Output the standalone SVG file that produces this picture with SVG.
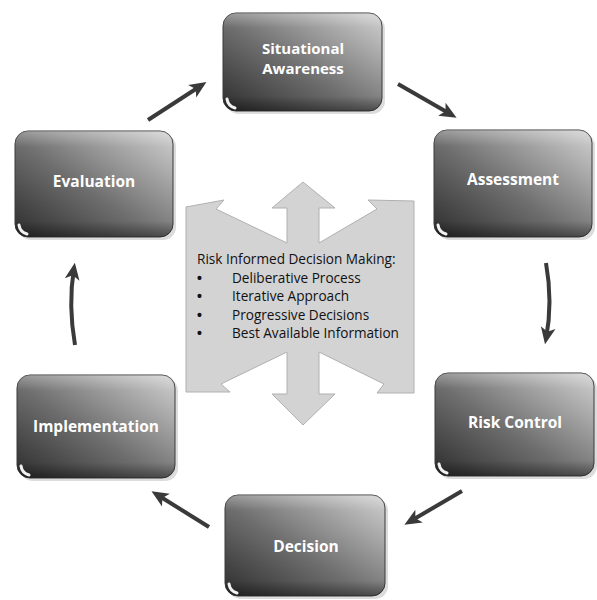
<svg xmlns="http://www.w3.org/2000/svg" width="597" height="600" viewBox="0 0 597 600">
<defs>
<linearGradient id="boxg" x1="0" y1="1" x2="1" y2="0">
<stop offset="0" stop-color="#2c2c2c"/>
<stop offset="0.45" stop-color="#6e6e6e"/>
<stop offset="1" stop-color="#d2d2d2"/>
</linearGradient>
<linearGradient id="sheen" x1="0" y1="0" x2="0" y2="1">
<stop offset="0" stop-color="#ffffff" stop-opacity="0.25"/>
<stop offset="0.15" stop-color="#ffffff" stop-opacity="0"/>
<stop offset="0.85" stop-color="#000000" stop-opacity="0"/>
<stop offset="1" stop-color="#000000" stop-opacity="0.35"/>
</linearGradient>
<marker id="ah" viewBox="0 0 16 16" markerWidth="17" markerHeight="17" refX="11" refY="8" orient="auto" markerUnits="userSpaceOnUse">
<path d="M0,1 L16,8 L0,15 L4,8 z" fill="#3a3a3a"/>
</marker>
<style>
.shadow{fill:#9a9a9a;opacity:0.35}
.box{fill:url(#boxg);stroke:#3a3a3a;stroke-width:1}
.sheen{fill:url(#sheen)}
.hl{fill:none;stroke:#f2f2f2;stroke-width:3;stroke-linecap:round}
.lbl{font-family:"Open Sans","Liberation Sans",sans-serif;font-weight:bold;font-size:15.5px;fill:#ffffff;text-anchor:middle}
.lbl2{font-size:15px}
.conn{fill:none;stroke:#3a3a3a;stroke-width:4;marker-end:url(#ah)}
.ctr{font-family:"Open Sans","Liberation Sans",sans-serif;font-size:13.6px;fill:#111111}
.bul{font-family:"Liberation Sans",sans-serif;font-size:14px;font-weight:bold;fill:#111111}
</style>
</defs>
<rect width="597" height="600" fill="#ffffff"/>

<g id="center">
<polygon points="303,182 335,208 319,208 319,243 377,209 368,200 414,201 414,393 377,393 384,384 319,352 319,394 335,394 303,425 272,394 287,394 287,352 221,384 230,392 186,392 186,207 224,200 216,209 287,243 287,208 272,208" fill="#d3d3d3" stroke="#b0b0b0" stroke-width="1"/>
<text class="ctr" x="197" y="264">Risk Informed Decision Making:</text>
<text class="bul" x="197" y="283">•</text><text class="ctr" x="232" y="283">Deliberative Process</text>
<text class="bul" x="197" y="301">•</text><text class="ctr" x="232" y="301">Iterative Approach</text>
<text class="bul" x="197" y="320">•</text><text class="ctr" x="232" y="320">Progressive Decisions</text>
<text class="bul" x="197" y="338">•</text><text class="ctr" x="232" y="338">Best Available Information</text>
</g>

<g id="connectors">
<path class="conn" d="M148,120 L202,85"/>
<path class="conn" d="M398,84 L452,115"/>
<path class="conn" d="M546,263 Q553,302 546,339"/>
<path class="conn" d="M462,491 L409,522"/>
<path class="conn" d="M209,527 L156,494"/>
<path class="conn" d="M75,345 Q68,305 74,268"/>
</g>

<g id="situational-awareness">
<rect class="shadow" x="226" y="16" width="159" height="98" rx="13"/>
<rect class="box" x="223" y="13" width="159" height="98" rx="13"/>
<rect class="sheen" x="223" y="13" width="159" height="98" rx="13"/>
<path class="hl" d="M227,99 Q228,106 235,108"/>
<text class="lbl lbl2" x="303" y="54">Situational</text>
<text class="lbl lbl2" x="303" y="74">Awareness</text>
</g>

<g id="evaluation">
<rect class="shadow" x="18" y="134" width="158" height="106" rx="13"/>
<rect class="box" x="15" y="131" width="158" height="106" rx="13"/>
<rect class="sheen" x="15" y="131" width="158" height="106" rx="13"/>
<path class="hl" d="M19,225 Q20,232 27,234"/>
<text class="lbl" x="94" y="187">Evaluation</text>
</g>

<g id="assessment">
<rect class="shadow" x="437" y="133" width="158" height="107" rx="13"/>
<rect class="box" x="434" y="130" width="158" height="107" rx="13"/>
<rect class="sheen" x="434" y="130" width="158" height="107" rx="13"/>
<path class="hl" d="M438,225 Q439,232 446,234"/>
<text class="lbl" x="513" y="185">Assessment</text>
</g>

<g id="risk-control">
<rect class="shadow" x="438" y="376" width="159" height="103" rx="13"/>
<rect class="box" x="435" y="373" width="159" height="103" rx="13"/>
<rect class="sheen" x="435" y="373" width="159" height="103" rx="13"/>
<path class="hl" d="M439,464 Q440,471 447,473"/>
<text class="lbl" x="515" y="428">Risk Control</text>
</g>

<g id="implementation">
<rect class="shadow" x="20" y="378" width="158" height="103" rx="13"/>
<rect class="box" x="17" y="375" width="158" height="103" rx="13"/>
<rect class="sheen" x="17" y="375" width="158" height="103" rx="13"/>
<path class="hl" d="M21,466 Q22,473 29,475"/>
<text class="lbl" x="96" y="432">Implementation</text>
</g>

<g id="decision">
<rect class="shadow" x="228" y="498" width="160" height="101" rx="13"/>
<rect class="box" x="225" y="495" width="160" height="101" rx="13"/>
<rect class="sheen" x="225" y="495" width="160" height="101" rx="13"/>
<path class="hl" d="M229,584 Q230,591 237,593"/>
<text class="lbl" x="306" y="552">Decision</text>
</g>
</svg>
